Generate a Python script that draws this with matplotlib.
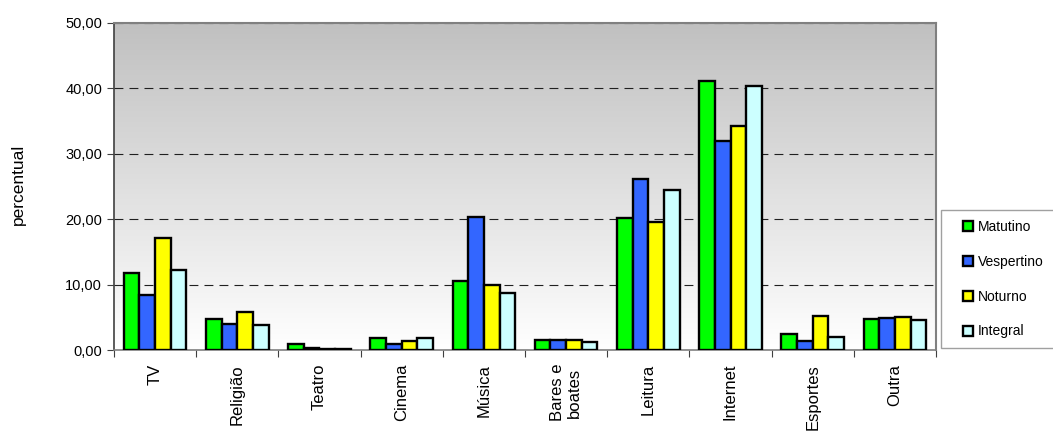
import numpy as np
import matplotlib.pyplot as plt
from matplotlib.colors import LinearSegmentedColormap
from matplotlib.patches import Rectangle

plt.rcParams['font.family'] = ['Liberation Sans', 'DejaVu Sans']

categories = ['TV', 'Religião', 'Teatro', 'Cinema', 'Música', 'Bares e\nboates',
              'Leitura', 'Internet', 'Esportes', 'Outra']
series = ['Matutino', 'Vespertino', 'Noturno', 'Integral']
matutino = [11.7, 4.7, 0.9, 1.8, 10.5, 1.5, 20.2, 41.2, 2.5, 4.7]
vespertino = [8.4, 4.0, 0.3, 0.9, 20.3, 1.6, 26.1, 32.0, 1.4, 4.9]
noturno = [17.1, 5.8, 0.1, 1.3, 10.0, 1.5, 19.5, 34.3, 5.2, 5.1]
integral = [12.3, 3.8, 0.2, 1.9, 8.7, 1.2, 24.5, 40.4, 2.0, 4.6]
colors = ['#00ff00', '#3366ff', '#ffff00', '#ccffff']
yticks = [0, 10, 20, 30, 40, 50]

W, H = 1053, 433
fig = plt.figure(figsize=(W / 100, H / 100), dpi=100)
ax = fig.add_axes([114 / W, 83 / H, 822 / W, 327 / H])

# gray-to-white background gradient
grad = LinearSegmentedColormap.from_list('bg', ['#ffffff', '#c0c0c0'])
ax.imshow(np.linspace(0, 1, 256).reshape(-1, 1), cmap=grad, origin='lower',
          extent=[0, len(categories), 0, 50], aspect='auto', zorder=0)

x = np.arange(len(categories)) + 0.5
width = 0.19
bars = []
for k, (vals, col, name) in enumerate(zip([matutino, vespertino, noturno, integral], colors, series)):
    bars.append(ax.bar(x + (k - 1.5) * width, vals, width, color=col, edgecolor='black',
                       linewidth=1.7, label=name, zorder=3))

ax.set_xlim(0, len(categories))
ax.set_ylim(0, 50)
ax.set_yticks(yticks)
ax.set_yticklabels([('%.2f' % v).replace('.', ',') for v in yticks], fontsize=10.5)
ax.yaxis.grid(True, color='#202020', linestyle=(0, (8, 5.5)), linewidth=0.8)
ax.set_axisbelow(True)

ax.set_xticks(np.arange(len(categories) + 1))
ax.set_xticklabels([])
ax.set_xticks(x, minor=True)
ax.set_xticklabels(categories, minor=True, rotation=90, fontsize=12)
ax.tick_params(axis='x', which='minor', length=0, pad=10)
ax.tick_params(axis='x', which='major', length=5, direction='out', color='#404040')
ax.tick_params(axis='y', length=5, direction='out', color='#404040')

for s in ['top', 'right']:
    ax.spines[s].set_color('#808080')
    ax.spines[s].set_linewidth(1.5)
ax.spines['left'].set_color('#404040')
ax.spines['bottom'].set_color('#808080')
ax.spines['left'].set_linewidth(1.2)
ax.spines['bottom'].set_linewidth(1.2)

fig.text(18 / W, 1 - 184 / H, 'percentual', rotation=90, fontsize=12.5,
         ha='center', va='center')

# legend box drawn separately, legend itself frameless inside it
fig.patches.append(Rectangle((941 / W, 85 / H), 130 / W, 138 / H, transform=fig.transFigure,
                             facecolor='white', edgecolor='#a0a0a0', linewidth=1.0, zorder=1))
fig.legend(bars, series, loc='upper left', bbox_to_anchor=(963 / W, 1 - 220 / H),
           bbox_transform=fig.transFigure, frameon=False, fontsize=10,
           handlelength=0.75, handleheight=0.75, handletextpad=0.3,
           labelspacing=1.5, borderpad=0, borderaxespad=0)

fig.savefig('out.png', dpi=100)
